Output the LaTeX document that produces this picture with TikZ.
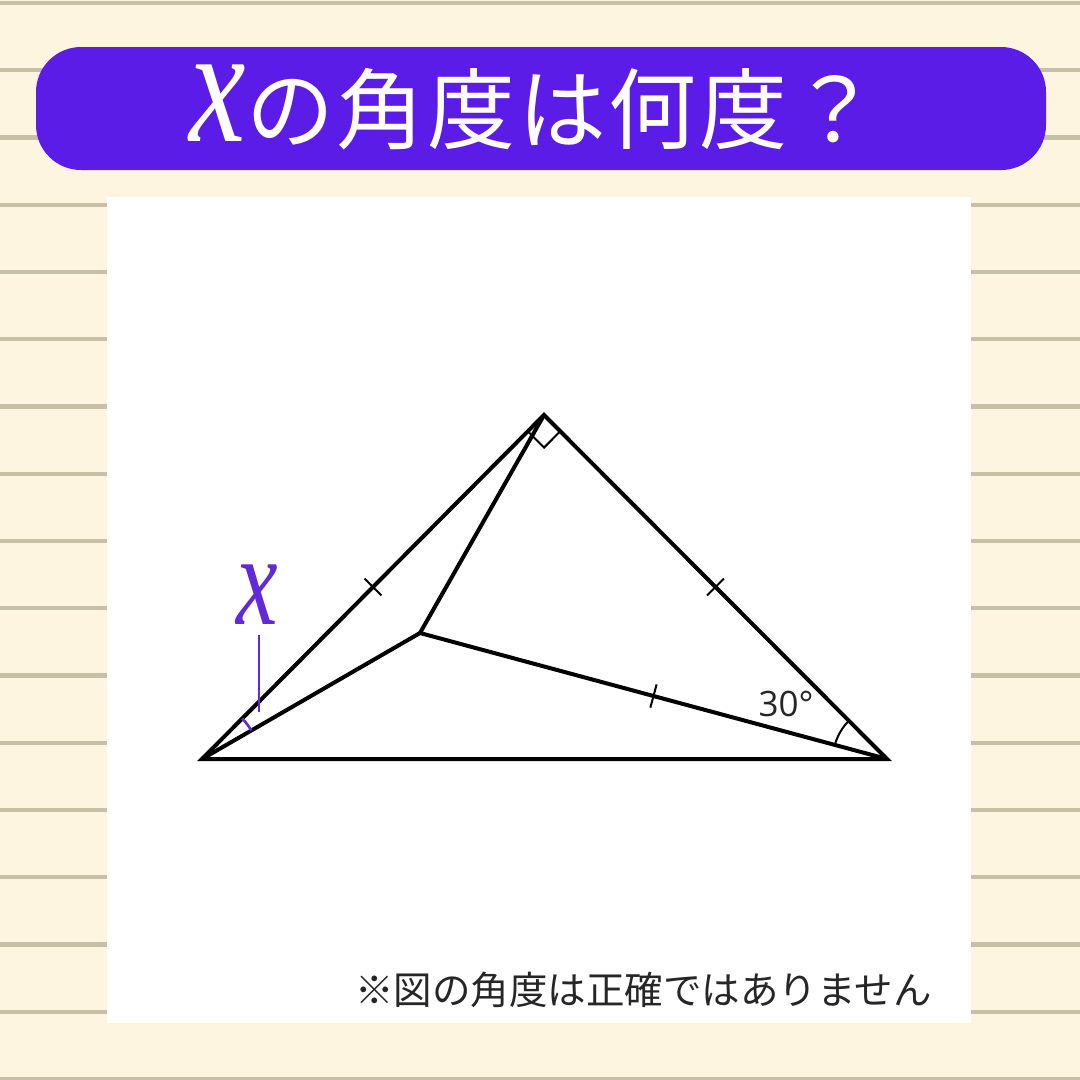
\documentclass[tikz,border=0pt]{standalone}
\usepackage{fontspec}
\usepackage{graphicx}
\usetikzlibrary{calc}
\newfontfamily\jpfont{Noto Sans CJK JP}
\newfontfamily\jptitlefont[LetterSpace=3]{Noto Sans CJK JP}
\newfontfamily\xfont{Liberation Serif}
\newfontfamily\numfont{Open Sans}
\definecolor{bgcream}{HTML}{FDF5E0}
\definecolor{rulegray}{HTML}{C8BFA8}
\definecolor{bannerpurple}{HTML}{5B1CE8}
\definecolor{labelpurple}{HTML}{6229D8}
\begin{document}
\begin{tikzpicture}[x=1pt,y=-1pt,
  edge/.style={line width=4pt},
  tickmark/.style={line width=2pt},
  anglemark/.style={line width=2pt},
  purplemark/.style={draw=labelpurple, line width=2.6pt},
  leader/.style={draw=labelpurple, line width=1.2pt}]
\useasboundingbox (0,0) rectangle (1080,1080);
% background with ruled lines
\fill[bgcream] (0,0) rectangle (1080,1080);
\foreach \k in {0,...,16}
  \fill[rulegray] (0,{3+67.25*\k-2.2}) rectangle (1080,{3+67.25*\k+2.2});
% banner
\fill[bannerpurple, rounded corners=45pt] (36,47) rectangle (1046,170);
\node[font=\xfont\itshape\fontsize{167}{167}\selectfont, text=white, anchor=base, inner sep=0] (tx) at (218,141) {\scalebox{0.76}[1]{x}};
\node[font=\jptitlefont\fontsize{88}{88}\selectfont, text=white, anchor=base west, inner sep=0] (title) at (246,142) {の角度は何度？};
% white panel
\fill[white] (107,197) rectangle (971,1023);
% figure
\coordinate (A) at (202,759);
\coordinate (B) at (887,759);
\coordinate (C) at (544,415);
\coordinate (P) at (420,633);
\draw[edge] (A) -- (B) -- (C) -- cycle;
\draw[edge] (A) -- (P) -- (B);
\draw[edge] (P) -- (C);
% tick marks
\coordinate (mAC) at ($(A)!0.5!(C)$);
\coordinate (mCB) at ($(C)!0.5!(B)$);
\coordinate (mPB) at ($(P)!0.5!(B)$);
\draw[tickmark] ($(mAC)!12pt!90:(C)$) -- ($(mAC)!12pt!-90:(C)$);
\draw[tickmark] ($(mCB)!12pt!90:(B)$) -- ($(mCB)!12pt!-90:(B)$);
\draw[tickmark] ($(mPB)!12pt!90:(B)$) -- ($(mPB)!12pt!-90:(B)$);
% right angle at C
\coordinate (rA) at ($(C)!23pt!(A)$);
\coordinate (rB) at ($(C)!23pt!(B)$);
\coordinate (rM) at ($(rA)+(rB)-(C)$);
\draw[anglemark] (rA) -- (rM) -- (rB);
% 30 degree arc at B
\draw[anglemark] ($(B)!54pt!(P)$) arc[start angle=195.1, end angle=225.1, radius=54];
\node[font=\numfont\fontsize{35}{35}\selectfont, text=black!85, anchor=base, inner sep=0] (ang) at (786,716) {30°};
% x angle at A
\draw[purplemark] ($(A)!57pt!(P)$) arc[start angle=-30, end angle=-45.2, radius=57];
\node[font=\xfont\itshape\fontsize{130}{130}\selectfont, text=labelpurple, anchor=base, inner sep=0] (xlabel) at (257,624) {\scalebox{0.72}[1]{x}};
\coordinate (xl1) at (259,635);
\coordinate (xl2) at (259,712);
\draw[leader] (xl1) -- (xl2);
% note
\node[font=\jpfont\fontsize{38.5}{38.5}\selectfont, text=black!85, anchor=base west, inner sep=0] (note) at (355,1004) {※図の角度は正確ではありません};
\end{tikzpicture}
\end{document}
